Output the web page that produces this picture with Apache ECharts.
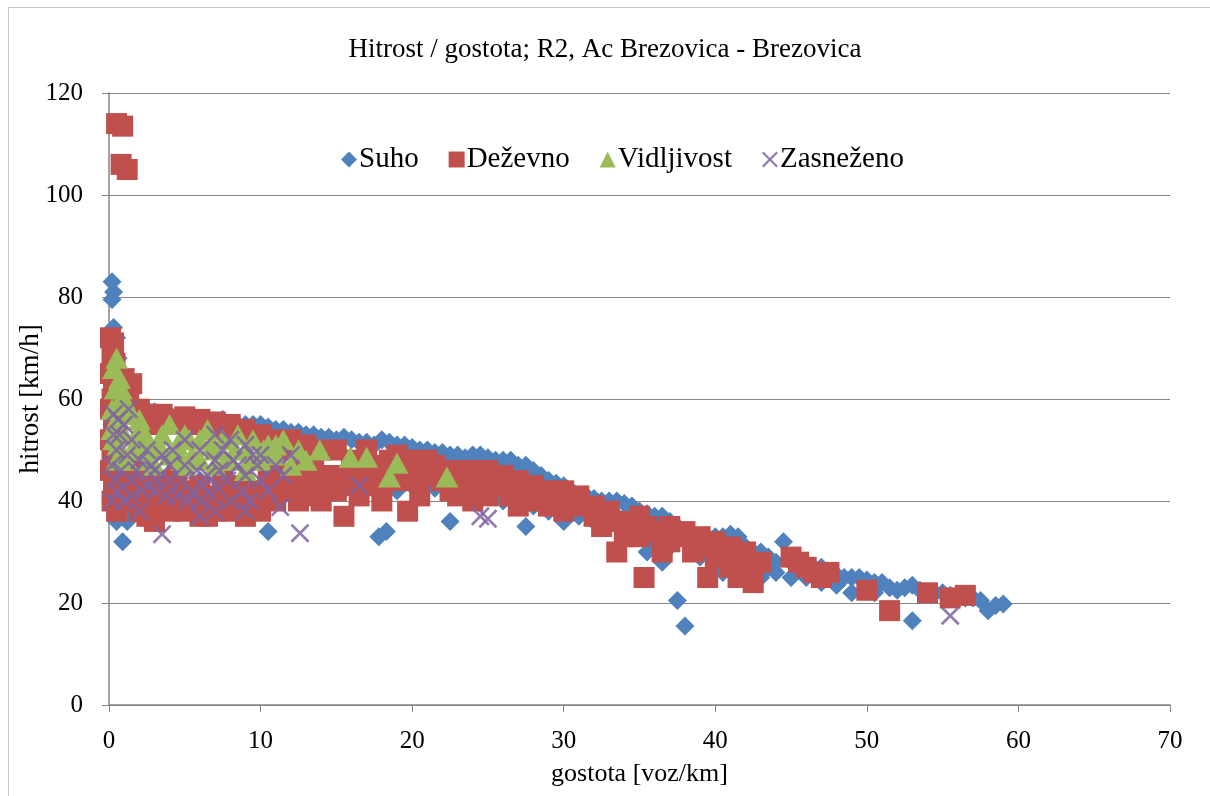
<!DOCTYPE html>
<html>
<head>
<meta charset="utf-8">
<script src="https://cdn.jsdelivr.net/npm/echarts@6/dist/echarts.min.js"></script>
<style>
  html, body { margin: 0; padding: 0; background: #fff; }
  #chart { width: 1210px; height: 796px; }
</style>
</head>
<body>
<div id="chart"></div>
<script>
// series names as in the legend
const seriesNames = ['Suho', 'Deževno', 'Vidljivost', 'Zasneženo'];

// [gostota, hitrost]
const suho = [
  [0.1,45],[0.1,50],[0.2,55],[0.2,60],[0.3,65],[0.3,70],[0.3,74],[0.2,79.5],[0.3,81],[0.2,83],
  [0.5,72],[0.6,68],[0.8,64],[1,62],[1.2,60],[0.4,40],[0.6,37],[0.9,32],[1.5,59],[2,58],
  [2.5,58],[3,57.5],[3.5,57],[4,57],[4.5,56.5],[5,56],[5.5,56],[6,56],[6.5,55.5],[7,55.5],
  [7.5,56],[8,55],[8.5,55],[9,55],[9.5,55],[10,55],[10.5,54.5],[11,54],[11.5,54],[12,53.5],
  [12.5,53.5],[13,53],[13.5,53],[14,52.5],[14.5,52.5],[15,52],[15.5,52.5],[16,52],[16.5,51.5],[17,51.5],
  [17.5,51],[18,52],[18.5,51.5],[19,51],[19.5,51],[20,50.5],[20.5,50],[21,50],[21.5,49.5],[22,49.5],
  [22.5,49],[23,49],[23.5,48.5],[24,49],[24.5,49],[25,48.5],[25.5,48],[26,48],[26.5,48],[27,47],
  [27.5,47],[28,46],[28.5,45],[29,44],[29.5,43.5],[30,43],[30.5,42],[31,41],[31.5,41],[32,40.5],
  [32.5,40],[33,40],[33.5,40],[34,39.5],[34.5,39],[35,38],[35.5,37.5],[36,37],[36.5,37],[37,36],
  [37.5,35],[38,34],[38.5,33.5],[39,33],[39.5,33],[40,33],[40.5,33],[41,33.5],[41.5,33],[42,31],
  [42.5,30],[43,30],[43.5,29],[44,28],[44.5,32],[45,28],[45.5,27],[46,27],[46.5,27],[47,27],
  [47.5,26],[48,25.5],[48.5,25],[49,25],[49.5,25],[50,24.5],[50.5,24],[51,24],[51.5,23],[52,22.5],
  [52.5,23],[53,23.5],[53.5,22.5],[54,22],[54.5,22],[55,22],[55.5,21.5],[56,21],[56.5,21],[57,21],
  [57.5,20.5],[58,18.5],[58.5,19.5],[59,19.8],[53,16.5],[49,22],[50.5,22],[45,25],[46,25],[42,28],
  [40,30],[38.5,30],[37.5,20.5],[38,15.5],[36.5,28],[35,35],[33,36],[31,37],[30,36],[29,38],
  [27.5,35],[26,40],[25,42],[24,43],[23,43],[22.5,36],[22,43],[21,43],[20,43],[19,42],
  [18.3,34],[17.8,33],[17,43],[16,44],[15,44],[14,45],[12,44],[10.5,34],[6,44],[4,44],
  [3,46],[2,47],[1,38],[1.2,36],[0.5,36],[8,43],[10,43],[32,36],[34,34],[36,32],
  [39,29],[41,27],[43,25],[44,26],[47,24],[48,23.5],[40.5,26],[35.5,30],
  [18,43],[20.5,42.5],[21.5,42.5],[23.5,42],[26.5,41],[28,39],[30.5,38],[33.5,37],[37,31],[43.5,27]
];

const dezevno = [
  [0.5,114],[0.9,113.5],[0.8,106],[1.2,105],
  [0.1,72],[0.3,71],[0.2,69],[0.4,67],[0.1,65],[0.3,62],[0.2,60],[0.1,58],[0.3,55],[0.1,52],
  [0.2,49],[0.1,46],[0.3,43],[0.2,40],[0.5,38],
  [1,64],[1.5,63],[1.3,60],[2,58],[2.5,57],[1,42],[1.5,40],[2,38],[2.5,37],[3,36],[1.3,45],
  [3,55],[3.5,57],[4,56],[5,56.5],[5.5,55],[6,56],[7,55.5],[7.5,54],[8,55],[9,54],
  [10,53],[11,52],[12,52],[13,51],[14,50],
  [3.5,44],[4,42],[4.5,40],[5,38],[5.5,42],[6,37],[6.5,40],[7,38],[7.5,44],[8,41],
  [8.5,43],[9,37],[9.5,40],[10,42],[10.5,44],[11,46],[12,42],[12.5,40],[13,44],[14,43],
  [14.5,45],[15,42],[15.5,37],[16,46],[16.5,41],[17,43],[18,40],[18.5,48],[19,44],[19.7,38],
  [20,46],[20.5,41],[21,48],[21.5,47],[22,46],[22.5,42],[23,41],[23.5,44],[24,40],[24.5,44],
  [25,41],[25.5,43],[26,45],[26.5,41],[27,39],[27.5,42],[28,40],[28.5,41],[29,42],[29.5,40],
  [30,38],[30.5,40],[31,39],[32,37],[32.5,35],[33,36],[33.5,30],[34,33],[34.5,35],[35,33],
  [35.3,25],[35.5,35],[36.5,30],[37,32],[37.5,33],[38,34],[38.5,30],[39,31],[39.5,25],[40,29],
  [40.5,30],[41,27],[41.5,25],[42,28],[42.5,24],[43,28],[45,29],[45.5,28],[46,27],[46.5,26],
  [47,25],[47.5,26],[50,22.5],[51.5,18.5],[54,22],[55.5,21],[56.5,21.5],
  [0.5,44],[0.8,41],[1.5,47],[2,44],[2.5,41],[3,40],[3,44],[4,38],[4.5,45],[5,41],
  [5.5,39],[6,43],[6.5,37],[7,41],[8,38],[8.5,40],[9,42],[10,38],[10.5,41],[11,40],
  [11.5,43],[12,45],[13,41],[13.5,46],[14,40],[15,45],[16,43],[17,46],[17.5,44],[18,43],
  [19,46],[20,44],[21,45],[22,44],[23,46],[24,46],[25,46],[26,43],[27,44],[28,43],
  [29,39],[30,42],[31,41],[32,39],[33,38],[34,36],[35,37],[36,34],[37,35],[39,33],
  [40,32],[41,31],[42,30],
  [4.5,55],[6.5,54],[8.5,53],[9.5,52],[10.5,51],[11.5,50],[12.5,49],[13.5,48],[15,50],[16,48],
  [17,50],[18,47],[19,49],[20,48]
];

const vidljivost = [
  [0.5,68],[0.3,66],[0.7,64],[0.4,62],[1,60],[0.2,58],[1.3,58],[0.5,56],[1.5,57],[2,56],
  [2.2,54],[0.3,52],[1,53],[1.5,50],[0.5,48],[2.5,52],[3,50],[3.5,53],[4,55],[4.5,51],
  [5,53],[5.5,49],[6,52],[6.5,54],[7,50],[7.5,52],[8,48],[8.5,53],[9,50],[9.5,52],
  [10,48],[10.5,51],[11,49],[11.5,52],[12,47],[13.9,50],[15.9,48.6],[17,48.6],[19,47.4],[18.5,44.7],
  [22.3,44.7],[3,47],[5,47],[7,47],[9,46],
  [0.2,54],[0.6,51],[1.2,48],[1.8,53],[2.6,48],[3.3,51],[4,49],[4.8,48],[5.3,52],[6,48],
  [6.8,51],[7.7,48],[8.3,50],[9.2,48],[10.2,50],[11,51],[12.5,50],[13,48],[2,51],[1,57],
  [0.8,62],[0.6,59]
];

const zasnezeno = [
  [0.3,57],[1,55],[1.5,52],[0.5,50],[2,48],[2.5,50],[3,46],[3.5,49],[4,44],[5,47],
  [5.5,42],[6,40],[6.5,45],[7,48],[7.5,50],[8,52],[8.5,47],[9,45],[9.5,49],[10,44],
  [11,47],[12,49],[0.5,42],[1,40],[1.5,44],[2,38],[3.5,33.5],[4.5,41],[6,37],[7,38],
  [8,40],[9,38],[11.3,38.8],[12.6,33.7],[16.5,43],[24.5,37],[25,36.5],[55.5,17.5],[0.8,46],[2.5,43],
  [5,52],[7,43],
  [0.2,47],[0.4,44],[0.7,53],[1.2,49],[1.8,46],[2.2,42],[2.8,47],[3.2,44],[3.8,41],[4.2,50],
  [4.8,44],[5.2,40],[5.8,46],[6.2,43],[6.8,41],[7.3,46],[7.8,44],[8.2,48],[8.8,42],[9.3,40],
  [9.8,47],[10.5,42],[0.2,40],[1.5,41],[3,42],[4,47],[6,50],[7,53],[9,51],[10,49],
  [11.5,45],[0.3,53],[0.6,56],[1.3,58]
];

const crossPath = 'path://M0,1L1,0L5,4L9,0L10,1L6,5L10,9L9,10L5,6L1,10L0,9L4,5Z';
const serif = '"Liberation Serif", "DejaVu Serif", serif';
const axisGray = '#868686';

const chart = echarts.init(document.getElementById('chart'));

chart.setOption({
  backgroundColor: '#fff',
  animation: false,
  textStyle: { fontFamily: serif },
  graphic: [{
    type: 'rect',
    shape: { x: 8.5, y: 7.5, width: 1220, height: 800 },
    style: { fill: 'none', stroke: '#c8c8c8', lineWidth: 1 },
    silent: true
  }],
  title: {
    text: 'Hitrost / gostota; R2, Ac Brezovica - Brezovica',
    left: 'center',
    top: 31,
    textStyle: { fontFamily: serif, fontSize: 27, fontWeight: 'normal', color: '#000' }
  },
  legend: {
    top: 140,
    left: 336,
    itemGap: 30,
    itemWidth: 16,
    itemHeight: 16,
    textStyle: { fontFamily: serif, fontSize: 29, color: '#000', padding: [0, 0, 0, -3] },
    data: [
      { name: 'Suho', icon: 'diamond' },
      { name: 'Deževno', icon: 'rect' },
      { name: 'Vidljivost', icon: 'triangle' },
      { name: 'Zasneženo', icon: crossPath }
    ]
  },
  grid: { left: 109, right: 40, top: 93, bottom: 91 },
  xAxis: {
    type: 'value',
    min: 0, max: 70, interval: 10,
    name: 'gostota [voz/km]',
    nameLocation: 'middle',
    nameGap: 56,
    nameMoveOverlap: false,
    nameTextStyle: { fontFamily: serif, fontSize: 26, color: '#000' },
    axisLine: { lineStyle: { color: axisGray, width: 1.5 } },
    axisTick: { show: true, length: 7, lineStyle: { color: axisGray } },
    axisLabel: { fontFamily: serif, fontSize: 25, color: '#000', margin: 24 },
    splitLine: { show: false }
  },
  yAxis: {
    type: 'value',
    min: 0, max: 120, interval: 20,
    name: 'hitrost [km/h]',
    nameLocation: 'middle',
    nameGap: 65,
    nameMoveOverlap: false,
    nameTextStyle: { fontFamily: serif, fontSize: 27, color: '#000' },
    axisLine: { show: true, lineStyle: { color: axisGray, width: 1.5 } },
    axisTick: { show: true, length: 7, lineStyle: { color: axisGray } },
    axisLabel: { fontFamily: serif, fontSize: 25, color: '#000', margin: 26 },
    splitLine: { lineStyle: { color: axisGray, width: 1.2 } }
  },
  series: [
    {
      name: seriesNames[0], type: 'scatter', data: suho,
      symbol: 'diamond', symbolSize: 19,
      itemStyle: { color: '#4F81BD', opacity: 1 }
    },
    {
      name: seriesNames[1], type: 'scatter', data: dezevno,
      symbol: 'rect', symbolSize: 21,
      itemStyle: { color: '#C0504D', opacity: 1 }
    },
    {
      name: seriesNames[2], type: 'scatter', data: vidljivost,
      symbol: 'triangle', symbolSize: [23, 21],
      itemStyle: { color: '#9BBB59', opacity: 1 }
    },
    {
      name: seriesNames[3], type: 'scatter', data: zasnezeno,
      symbol: crossPath, symbolSize: 19,
      itemStyle: { color: '#8064A2', opacity: 0.85 }
    }
  ]
});
</script>
</body>
</html>
